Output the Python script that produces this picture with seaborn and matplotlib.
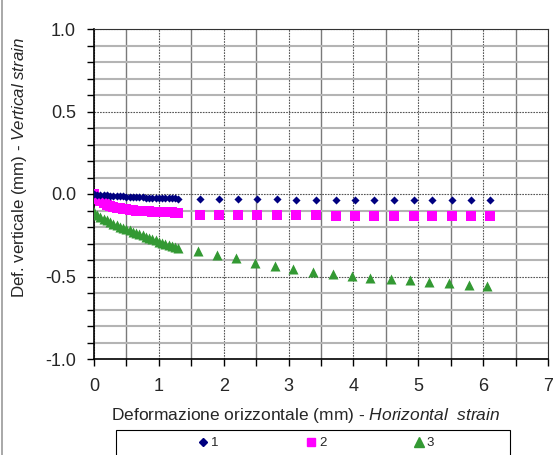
import numpy as np
import pandas as pd
import seaborn as sns
import matplotlib.pyplot as plt
from matplotlib.ticker import MultipleLocator
from matplotlib.patches import Rectangle
from matplotlib.lines import Line2D

sns.set_theme(style="white")
plt.rcParams['font.family'] = ['Liberation Sans', 'DejaVu Sans']
plt.rcParams['mathtext.fontset'] = 'custom'
plt.rcParams['mathtext.it'] = 'Liberation Sans:italic'
plt.rcParams['mathtext.rm'] = 'Liberation Sans'

# dense readings (first part of the test)
x_dense = [0.0, 0.05, 0.1, 0.15, 0.2, 0.25, 0.3, 0.35, 0.4, 0.45, 0.5, 0.55, 0.6, 0.65,
           0.7, 0.75, 0.8, 0.85, 0.9, 0.95, 1.0, 1.05, 1.1, 1.15, 1.2, 1.25, 1.3]
y1_dense = [0.0, -0.004, -0.006, -0.008, -0.009, -0.010, -0.012, -0.013, -0.014, -0.015,
            -0.016, -0.017, -0.018, -0.019, -0.020, -0.021, -0.022, -0.022, -0.023, -0.024,
            -0.024, -0.025, -0.026, -0.026, -0.027, -0.027, -0.028]
y2_dense = [0.0, -0.030, -0.045, -0.055, -0.065, -0.072, -0.078, -0.083, -0.087, -0.090,
            -0.093, -0.096, -0.098, -0.100, -0.102, -0.104, -0.105, -0.106, -0.107, -0.108,
            -0.109, -0.110, -0.111, -0.112, -0.112, -0.113, -0.114]
y3_dense = [-0.110, -0.125, -0.140, -0.150, -0.160, -0.170, -0.180, -0.190, -0.200, -0.205,
            -0.215, -0.220, -0.230, -0.235, -0.245, -0.250, -0.260, -0.265, -0.275, -0.280,
            -0.290, -0.295, -0.305, -0.310, -0.315, -0.320, -0.330]

# sparse readings
x1_sparse = [1.63, 1.93, 2.22, 2.52, 2.82, 3.12, 3.42, 3.73, 4.02, 4.31, 4.63, 4.93,
             5.21, 5.52, 5.82, 6.11]
y1_sparse = [-0.032, -0.032, -0.032, -0.033, -0.033, -0.034, -0.034, -0.035, -0.035,
             -0.035, -0.036, -0.036, -0.037, -0.037, -0.038, -0.038]
x2_sparse = [1.63, 1.93, 2.22, 2.52, 2.82, 3.12, 3.42, 3.73, 4.02, 4.31, 4.63, 4.93,
             5.21, 5.52, 5.82, 6.11]
y2_sparse = [-0.125, -0.127, -0.128, -0.128, -0.129, -0.130, -0.130, -0.131, -0.131,
             -0.131, -0.132, -0.132, -0.132, -0.133, -0.133, -0.133]
x3_sparse = [1.60, 1.90, 2.19, 2.49, 2.79, 3.07, 3.37, 3.68, 3.98, 4.26, 4.58, 4.87,
             5.17, 5.47, 5.78, 6.06]
y3_sparse = [-0.344, -0.370, -0.390, -0.416, -0.436, -0.453, -0.473, -0.487, -0.497,
             -0.510, -0.517, -0.521, -0.533, -0.540, -0.552, -0.558]

s1 = pd.DataFrame({'x': x_dense + x1_sparse, 'y': y1_dense + y1_sparse})
s2 = pd.DataFrame({'x': x_dense + x2_sparse, 'y': y2_dense + y2_sparse})
s3 = pd.DataFrame({'x': [0.0] + x_dense + x3_sparse, 'y': [0.0] + y3_dense + y3_sparse})

fig = plt.figure(figsize=(5.53, 4.55), dpi=100)
ax = fig.add_axes([94/553, 1-359/455, 454/553, 330/455])

sns.scatterplot(data=s3, x='x', y='y', ax=ax, marker='^', s=52, color='#339933', linewidth=0, zorder=3)
sns.scatterplot(data=s2, x='x', y='y', ax=ax, marker='s', s=44, color='#ff00ff', linewidth=0, zorder=4)
sns.scatterplot(data=s1, x='x', y='y', ax=ax, marker='D', s=17, color='#000080', linewidth=0, zorder=5)

ax.set_xlim(0, 7)
ax.set_ylim(-1, 1)
ax.xaxis.set_major_locator(MultipleLocator(1))
ax.xaxis.set_minor_locator(MultipleLocator(0.5))
ax.yaxis.set_major_locator(MultipleLocator(0.5))
ax.yaxis.set_minor_locator(MultipleLocator(0.1))
ax.yaxis.set_major_formatter(plt.FormatStrFormatter('%.1f'))

ax.grid(which='minor', axis='x', color='#7a7a7a', lw=1.0, ls='-')
ax.grid(which='minor', axis='y', color='#b4b4b4', lw=1.5, ls='-')
ax.grid(which='major', color='#555555', lw=0.8, ls=(0, (1.5, 1)))
ax.set_axisbelow(True)

ax.tick_params(which='both', direction='out', length=5, width=1, color='black',
               bottom=True, left=True)
ax.tick_params(axis='x', which='major', labelsize=13, pad=9)
ax.tick_params(axis='y', which='major', labelsize=13, pad=8)

for side in ['left', 'bottom']:
    ax.spines[side].set_color('black')
    ax.spines[side].set_linewidth(1.2)
for side in ['top', 'right']:
    ax.spines[side].set_color('#333333')
    ax.spines[side].set_linewidth(0.8)

ax.set_xlabel('Deformazione orizzontale (mm) - $\\it{Horizontal\\ \\ strain}$', fontsize=12.5)
ax.set_ylabel('Def. verticale (mm) - $\\it{Vertical\\ strain}$', fontsize=12.2)
ax.xaxis.set_label_coords(0.466, -0.142)
ax.yaxis.set_label_coords(-0.143, 0.58)

# legend box at the bottom (cut by the figure edge)
fig.patches.append(Rectangle((116/553, -0.05), 394/553, 0.05 + 25/455, transform=fig.transFigure,
                             fill=False, edgecolor='black', lw=0.8))
handles = [Line2D([], [], ls='', marker='D', ms=4.5, color='#000080'),
           Line2D([], [], ls='', marker='s', ms=6, color='#ff00ff'),
           Line2D([], [], ls='', marker='^', ms=6.5, color='#339933')]
fig.legend(handles, ['1', '2', '3'], loc='center', bbox_to_anchor=(316/553, 1-443/455),
           ncol=3, frameon=False, fontsize=9.5, handlelength=0.8, handletextpad=0.2,
           columnspacing=6.6, borderaxespad=0)

fig.add_artist(Line2D([2/553, 2/553], [0, 1], transform=fig.transFigure, color='#999999', lw=1.2))

fig.savefig('out.png', dpi=100)
